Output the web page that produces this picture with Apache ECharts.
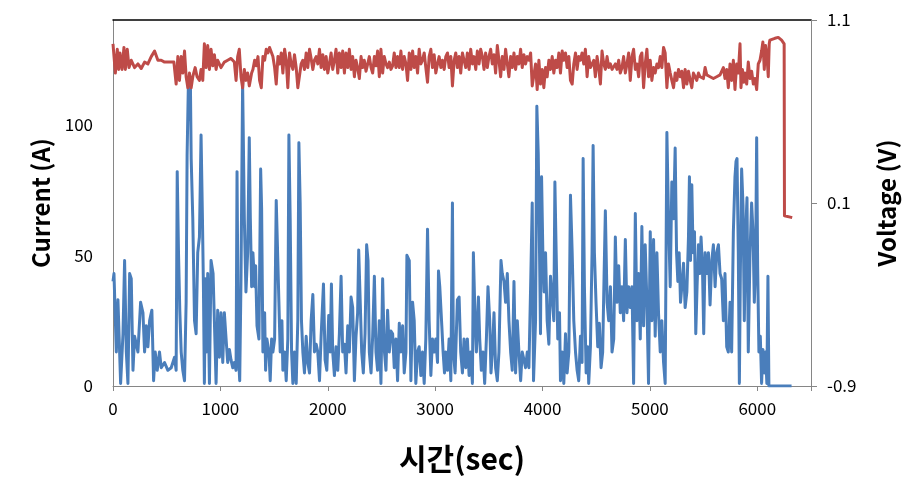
<!DOCTYPE html>
<html><head><meta charset="utf-8">
<script src="https://cdn.jsdelivr.net/npm/echarts@6/dist/echarts.min.js"></script>
<style>html,body{margin:0;padding:0;background:#fff}#c{width:924px;height:502px}</style>
</head><body><div id="c"></div>
<script>
// ---- data ----
const xTicks = [0,1000,2000,3000,4000,5000,6000];
const leftTicks = [0,50,100];
const rightTicks = [-0.9,0.1,1.1];

const curT = [0,9,31,46,71,93,108,124,139,155,170,186,201,232,257,279,294,310,325,341,362,378,393,412,433,449,480,511,542,573,588,598,610,622,635,650,666,681,690,703,712,721,728,743,759,774,789,805,820,833,842,851,861,870,882,898,913,932,944,960,975,991,1006,1022,1037,1053,1068,1084,1099,1115,1130,1146,1155,1167,1180,1192,1207,1223,1238,1254,1269,1279,1291,
1303,1319,1328,1341,1359,1375,1384,1396,1412,1421,1433,1452,1464,1477,1489,1505,1520,1533,1545,1557,1573,1582,1598,1613,1628,1638,1650,1663,1675,1690,1706,1721,1731,1743,1755,1768,1783,1799,1814,1830,1845,1861,1876,1892,1907,1923,1938,1960,1975,1991,2009,2022,2034,2046,2062,2077,2093,2108,2124,2139,2155,2170,2186,2201,2217,2232,2248,2263,2278,2288,2300,2316,2331,2347,2362,2375,2387,2403,2418,2434,2449,2464,2480,2495,2511,2526,2542,2557,2573,2588,2604,
2619,2635,2650,2666,2681,2697,2712,2728,2737,2759,2774,2790,2805,2820,2836,2851,2867,2882,2898,2913,2929,2944,2960,2975,2991,3006,3022,3031,3043,3062,3074,3087,3099,3115,3130,3146,3161,3170,3186,3207,3223,3238,3254,3269,3285,3300,3316,3331,3347,3356,3372,3384,3403,3415,3430,3446,3461,3477,3492,3508,3520,3533,3548,3563,3579,3594,3613,3625,3641,3656,3672,3687,3703,3718,3734,3749,3765,3780,3796,3811,3827,3842,3858,3873,3889,3904,
3916,3935,3947,3960,3972,3981,3991,4003,4015,4028,4043,4059,4074,4090,4105,4115,4127,4142,4158,4167,4183,4198,4214,4229,4245,4260,4276,4291,4307,4322,4337,4353,4368,4378,4390,4406,4421,4430,4446,4461,4471,4483,4498,4514,4529,4545,4560,4573,4585,4601,4616,4632,4647,4663,4678,4693,4709,4724,4740,4755,4771,4786,4802,4817,4833,4848,4864,4879,4895,4910,4925,4941,4956,4972,4987,5003,5018,5034,5049,5065,5080,5096,5111,5127,5142,5158,5173,5189,5204,
5220,5235,5248,5260,5272,5285,5297,5313,5328,5344,5359,5368,5378,5390,5402,5415,5427,5439,5452,5464,5476,5489,5501,5514,5529,5545,5560,5576,5591,5607,5622,5638,5653,5668,5684,5699,5715,5730,5746,5761,5777,5792,5802,5811,5823,5833,5842,5854,5867,5879,5892,5904,5916,5932,5947,5960,5972,5984,5994,6003,6015,6028,6040,6052,6065,6077,6089,6099,6108,6319];
const curA = [40,43,13,33,1,20,48,13,1,43,41,6,19,13,32,28,13,23,15,25,29,2,13,6,13,7,9,6,7,11,6,82,51,29,13,6,2,32,88,118,102,115,87,64,25,20,51,57,96,64,38,1,41,13,43,1,48,43,25,1,29,11,28,9,28,18,9,14,10,7,9,6,82,13,2,41,116,64,36,51,95,64,38,
51,38,46,23,18,83,68,13,28,6,18,13,2,18,13,18,71,51,32,13,25,6,13,2,18,96,64,13,1,13,1,25,93,70,25,13,5,19,9,5,25,35,13,16,13,2,19,39,10,6,27,13,39,13,4,15,6,20,42,13,16,5,23,13,34,30,2,19,28,52,52,13,5,20,54,48,13,5,19,42,13,6,25,1,41,14,6,29,13,21,20,
7,18,2,24,13,23,5,13,50,48,2,32,25,1,13,15,4,13,1,18,60,25,4,18,13,18,9,44,38,23,13,5,13,6,18,2,70,13,5,33,34,13,5,18,7,18,4,13,1,51,25,13,34,18,6,13,1,18,38,25,5,13,28,7,2,13,48,43,40,32,43,25,13,6,40,5,25,13,2,13,10,7,13,7,38,70,
2,25,107,89,51,20,80,51,36,51,25,16,42,34,25,78,51,18,28,2,13,1,20,5,13,73,51,25,13,6,2,19,9,87,38,5,15,1,15,51,92,51,32,15,24,7,13,42,67,32,25,38,13,18,57,32,46,28,38,25,56,28,38,30,38,1,66,25,43,18,61,23,54,32,1,59,25,56,19,51,28,13,25,9,1,97,64,38,78,
64,91,51,40,51,32,38,47,30,36,57,80,48,77,51,59,20,38,54,43,57,46,20,51,43,51,31,48,54,38,51,54,43,41,25,43,15,13,32,13,59,80,86,87,51,1,43,83,69,25,59,72,13,51,70,59,32,46,95,46,13,19,1,14,5,13,1,42,0,0];

const volT = [0,9,22,40,53,65,84,102,115,133,149,170,201,232,263,294,325,356,387,418,449,480,511,542,567,588,604,619,635,650,666,681,697,712,728,743,765,783,805,820,836,851,867,882,898,913,929,944,960,975,1006,1037,1068,1099,1130,1146,1161,1176,1192,1207,1223,1238,1254,1269,1291,
1303,1319,1334,1350,1365,1381,1396,1412,1427,1443,1458,1474,1489,1505,1520,1536,1551,1567,1582,1598,1613,1628,1644,1659,1675,1690,1706,1721,1737,1752,1768,1783,1799,1814,1830,1845,1861,1876,1892,1907,1923,1938,1954,1969,1985,2000,2015,2031,2046,2062,2077,2093,2108,2124,2139,2155,2170,2186,2201,2217,2232,2248,2263,2278,2294,2310,2325,2340,2356,2372,2387,2403,2418,2434,2449,2464,2480,2495,2511,2526,2542,2557,2573,2588,2604,
2619,2635,2650,2666,2681,2697,2712,2728,2743,2759,2774,2790,2805,2820,2836,2851,2867,2882,2898,2913,2929,2944,2960,2975,2991,3006,3022,3037,3053,3068,3084,3099,3115,3130,3146,3161,3177,3192,3207,3223,3238,3254,3269,3285,3300,3316,3331,3347,3362,3378,3393,3409,3424,3440,3455,3470,3486,3501,3517,3532,3548,3563,3579,3594,3610,3625,3641,3656,3672,3687,3703,3718,3734,3749,3765,3780,3796,3811,3827,3842,3858,3873,3889,3904,
3920,3935,3950,3966,3981,3997,4012,4028,4043,4059,4074,4090,4105,4121,4136,4152,4167,4183,4198,4214,4229,4245,4260,4276,4291,4307,4322,4337,4353,4368,4384,4399,4415,4430,4446,4461,4477,4492,4508,4523,4539,4554,4570,4585,4601,4616,4632,4647,4663,4678,4693,4709,4724,4740,4755,4771,4786,4802,4817,4833,4848,4864,4879,4895,4910,4925,4941,4956,4972,4987,5003,5018,5034,5049,5065,5080,5096,5111,5127,5142,5158,5173,5189,5204,
5220,5235,5251,5266,5282,5297,5313,5328,5344,5359,5375,5390,5405,5421,5436,5452,5467,5483,5498,5514,5529,5545,5560,5576,5591,5607,5622,5638,5653,5668,5684,5699,5715,5730,5746,5761,5777,5792,5808,5823,5839,5848,5861,5873,5885,5901,5916,5932,5947,5963,5978,5994,6009,6025,6040,6052,6065,6077,6089,6102,6111,6117,6133,6164,6195,6226,6241,6250,6253,6270,6325];
const volV = [0.97,0.98,0.81,0.94,0.83,0.92,0.83,0.95,0.83,0.94,0.84,0.88,0.84,0.86,0.835,0.87,0.86,0.90,0.93,0.88,0.88,0.87,0.87,0.87,0.87,0.75,0.90,0.77,0.90,0.81,0.93,0.79,0.73,0.81,0.73,0.79,0.84,0.79,0.77,0.83,0.77,0.97,0.84,0.96,0.83,0.94,0.85,0.91,0.83,0.88,0.84,0.87,0.88,0.89,0.87,0.77,0.90,0.94,0.79,0.73,0.83,0.77,0.81,0.74,0.81,
0.83,0.88,0.85,0.90,0.77,0.73,0.90,0.88,0.94,0.92,0.95,0.96,0.90,0.84,0.75,0.90,0.86,0.92,0.81,0.94,0.88,0.73,0.92,0.86,0.83,0.91,0.84,0.73,0.72,0.86,0.88,0.83,0.92,0.84,0.94,0.89,0.83,0.88,0.90,0.86,0.94,0.84,0.91,0.83,0.90,0.81,0.86,0.92,0.83,0.88,0.94,0.81,0.92,0.84,0.93,0.81,0.92,0.84,0.94,0.83,0.90,0.79,0.88,0.84,0.78,0.90,0.84,0.88,0.82,0.86,0.90,0.84,0.81,0.90,0.85,0.93,0.79,0.94,0.81,0.90,0.86,0.84,0.87,0.83,0.85,
0.92,0.84,0.90,0.84,0.93,0.83,0.90,0.86,0.77,0.92,0.83,0.93,0.84,0.90,0.81,0.94,0.86,0.88,0.92,0.84,0.76,0.90,0.94,0.84,0.91,0.81,0.86,0.90,0.84,0.88,0.83,0.90,0.92,0.84,0.90,0.74,0.88,0.92,0.84,0.90,0.81,0.92,0.88,0.84,0.92,0.83,0.94,0.86,0.90,0.83,0.93,0.86,0.94,0.90,0.83,0.92,0.84,0.90,0.94,0.86,0.91,0.81,0.96,0.88,0.79,0.90,0.83,0.94,0.86,0.79,0.90,0.84,0.92,0.83,0.90,0.86,0.94,0.84,0.91,0.86,0.90,0.88,0.92,0.74,
0.73,0.86,0.72,0.88,0.75,0.83,0.73,0.84,0.79,0.88,0.83,0.90,0.81,0.88,0.84,0.92,0.81,0.93,0.88,0.92,0.84,0.90,0.77,0.75,0.86,0.92,0.83,0.90,0.88,0.92,0.86,0.94,0.79,0.90,0.84,0.83,0.88,0.79,0.90,0.84,0.75,0.93,0.86,0.83,0.90,0.84,0.86,0.83,0.84,0.86,0.83,0.88,0.81,0.84,0.90,0.81,0.86,0.92,0.77,0.90,0.94,0.83,0.86,0.79,0.90,0.92,0.73,0.86,0.94,0.79,0.88,0.77,0.84,0.81,0.86,0.84,0.90,0.84,0.95,0.92,0.73,0.86,0.81,0.77,
0.73,0.81,0.77,0.83,0.79,0.82,0.73,0.83,0.75,0.82,0.77,0.73,0.81,0.79,0.77,0.81,0.79,0.80,0.78,0.84,0.80,0.81,0.79,0.80,0.78,0.77,0.79,0.78,0.80,0.81,0.84,0.78,0.83,0.73,0.86,0.77,0.88,0.72,0.86,0.81,0.97,0.73,0.83,0.76,0.81,0.75,0.87,0.78,0.82,0.75,0.78,0.72,0.86,0.88,0.93,0.98,0.83,0.96,0.91,0.79,0.97,0.99,1.0,1.0,1.005,0.99,0.98,0.97,0.03,0.02,0.02];

const zip = (a, b) => a.map((v, i) => [v, b[i]]);
const FONT = '"Noto Sans CJK KR", "Noto Sans", sans-serif';
const AXIS_GRAY = '#868686';

const chart = echarts.init(document.getElementById('c'), null, {renderer: 'canvas'});
chart.setOption({
  animation: false,
  backgroundColor: '#fff',
  grid: {left: 113, right: 113, top: 20, bottom: 116},
  xAxis: [{
    type: 'value', min: 0, max: 6500, interval: 1000, position: 'bottom',
    name: '시간(sec)', nameLocation: 'middle', nameGap: 58,
    nameTextStyle: {fontFamily: FONT, fontSize: 30, fontWeight: 'bold', color: '#000'},
    axisLine: {show: true, onZero: false, lineStyle: {color: AXIS_GRAY, width: 1}},
    axisTick: {show: true, length: 5, lineStyle: {color: AXIS_GRAY}},
    axisLabel: {customValues: xTicks, margin: 14, fontFamily: FONT, fontSize: 17, color: '#000',
      formatter: v => String(v)},
    splitLine: {show: false}
  }, {
    type: 'value', min: 0, max: 6500, position: 'top',
    axisLine: {show: true, onZero: false, lineStyle: {color: '#000', width: 1.5}},
    axisTick: {show: false}, axisLabel: {show: false}, splitLine: {show: false}
  }],
  yAxis: [{
    type: 'value', min: 0, max: 140, position: 'left',
    name: 'Current (A)', nameLocation: 'middle', nameGap: 60,
    nameTextStyle: {fontFamily: FONT, fontSize: 24, fontWeight: 'bold', color: '#000'},
    axisLine: {show: true, onZero: false, lineStyle: {color: AXIS_GRAY, width: 1}},
    axisTick: {show: false},
    axisLabel: {customValues: leftTicks, margin: 20, fontFamily: FONT, fontSize: 17, color: '#000'},
    splitLine: {show: false}
  }, {
    type: 'value', min: -0.9, max: 1.1, position: 'right',
    name: 'Voltage (V)', nameLocation: 'middle', nameGap: 64,
    nameTextStyle: {fontFamily: FONT, fontSize: 24, fontWeight: 'bold', color: '#000'},
    axisLine: {show: true, onZero: false, lineStyle: {color: AXIS_GRAY, width: 1}},
    axisTick: {show: true, length: 6, inside: false, customValues: rightTicks, lineStyle: {color: AXIS_GRAY}},
    axisLabel: {customValues: rightTicks, margin: 16, fontFamily: FONT, fontSize: 17, color: '#000',
      formatter: v => (Math.round(v * 10) / 10).toFixed(1)},
    splitLine: {show: false}
  }],
  series: [{
    name: 'Current', type: 'line', xAxisIndex: 0, yAxisIndex: 0,
    data: zip(curT, curA), showSymbol: false, symbol: 'none',
    lineStyle: {color: '#4A7EBB', width: 3, join: 'round'}, z: 2
  }, {
    name: 'Voltage', type: 'line', xAxisIndex: 0, yAxisIndex: 1,
    data: zip(volT, volV), showSymbol: false, symbol: 'none',
    lineStyle: {color: '#BE4B48', width: 3, join: 'round'}, z: 3
  }]
});
</script></body></html>
